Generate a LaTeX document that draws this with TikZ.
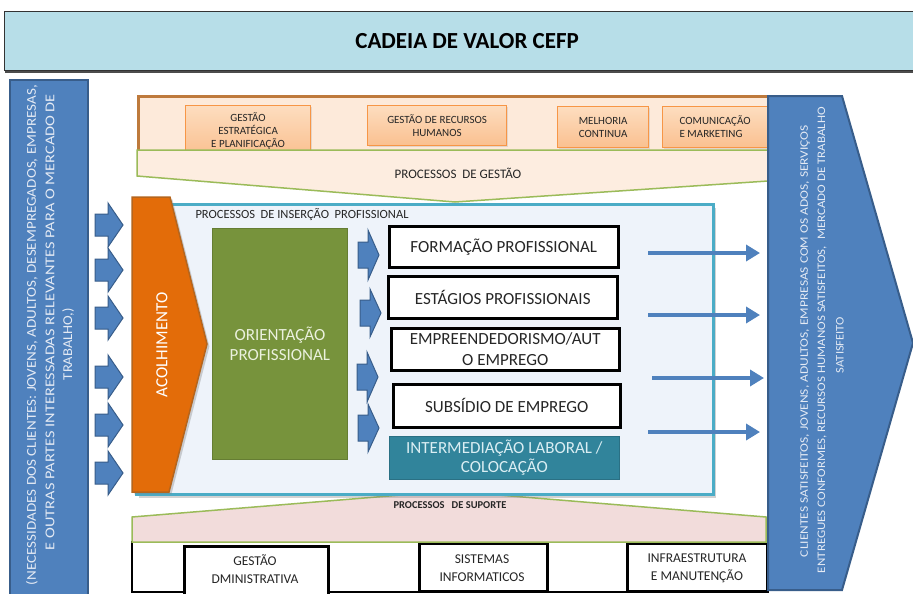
\documentclass[tikz,border=0pt]{standalone}
\usepackage{fontspec}
\setmainfont{Carlito}
\usepackage{graphicx}
\usetikzlibrary{shadows,arrows.meta}
\definecolor{titlebg}{HTML}{B7DEE8}
\definecolor{blu}{HTML}{4F81BD}
\definecolor{bluedge}{HTML}{385D8A}
\definecolor{mgmtedge}{HTML}{BE7A3C}
\definecolor{peach}{HTML}{FDEADA}
\definecolor{peachb}{HTML}{FDEDE0}
\definecolor{boxor}{HTML}{F79646}
\definecolor{mtop}{HTML}{FDDDBF}
\definecolor{mbot}{HTML}{FAC090}
\definecolor{grn}{HTML}{9BBB59}
\definecolor{innerb}{HTML}{4BACC6}
\definecolor{innerf}{HTML}{EEF3FA}
\definecolor{acol}{HTML}{E36C09}
\definecolor{acoledge}{HTML}{B5651D}
\definecolor{orientc}{HTML}{77933C}
\definecolor{orienttxt}{HTML}{EBF1DE}
\definecolor{tealc}{HTML}{31849B}
\definecolor{tealtxt}{HTML}{DAEEF3}
\definecolor{pinkf}{HTML}{F2DCDB}
\definecolor{txtdark}{HTML}{262626}
\definecolor{vtxt}{HTML}{E4EAF4}
\newcommand\blkarrow[6]{%
  \draw[blockarr] (#1,{#2-#5}) -- ({#1+#3},{#2-#5}) -- ({#1+#3},{#2-#6})
    -- ({#1+#3+#4},#2) -- ({#1+#3},{#2+#6}) -- ({#1+#3},{#2+#5})
    -- (#1,{#2+#5}) -- cycle;}
\begin{document}
\begin{tikzpicture}[x=1pt,y=-1pt,
  fs/.style 2 args={font=\fontsize{#1}{#2}\selectfont},
  blockarr/.style={fill=blu, draw=bluedge, line width=1pt, line join=miter},
  mbox/.style={draw=boxor, line width=1.2pt, top color=mtop, bottom color=mbot,
    anchor=north west, inner sep=0pt, align=center, text=txtdark,
    font=\fontsize{11}{13}\selectfont,
    drop shadow={opacity=0.2, shadow xshift=1pt, shadow yshift=-1.5pt}},
  wbox/.style={draw=black, line width=2.5pt, fill=white, anchor=north west,
    inner sep=0pt, align=center, font=\fontsize{17}{21}\selectfont, text=txtdark},
  sbox/.style={draw=black, line width=2.8pt, fill=white, anchor=north west,
    inner sep=0pt},
  stext/.style={align=center, font=\fontsize{13.5}{18}\selectfont, text=txtdark},
  outarr/.style={draw=blu, line width=4.5pt, -{Triangle[length=14pt,width=16pt]}},
  vtext/.style={rotate=90, inner sep=0pt, text=vtxt},
]
\clip (0,0) rectangle (913,594);
\fill[white] (0,0) rectangle (913,594);

% title bar
\node (title) [draw=black!80, line width=1.2pt, fill=titlebg, anchor=north west,
  minimum width=925pt, minimum height=59pt, inner sep=0pt,
  font=\fontsize{23}{27}\selectfont\bfseries, text=black,
  drop shadow={shadow xshift=0pt, shadow yshift=-2.5pt, opacity=0.7, fill=black}]
  at (4,11) {CADEIA DE VALOR CEFP};

% left input box
\node (needs) [draw=bluedge, line width=1.8pt, fill=blu, anchor=north west,
  minimum width=78pt, minimum height=540pt, inner sep=0pt] at (9,79) {};
\node (n1) [vtext, fs={13.5}{18}] at (32,335)
  {\resizebox{500pt}{\height}{(NECESSIDADES DOS CLIENTES: JOVENS, ADULTOS, DESEMPREGADOS, EMPRESAS,}};
\node (n2) [vtext, fs={13.5}{18}] at (50,322)
  {\resizebox{456pt}{\height}{E OUTRAS PARTES INTERESSADAS RELEVANTES PARA O MERCADO DE}};
\node (n3) [vtext, fs={13.5}{18}] at (68,344)
  {\resizebox{72pt}{\height}{TRABALHO,)}};

% input arrows
\foreach \yy in {225,270,318,377,425,473} {\blkarrow{95}{\yy}{13}{15}{11}{22}}

% management processes
\node (mgmt) [draw=mgmtedge, line width=2.5pt, fill=peach, anchor=north west,
  minimum width=641pt, minimum height=55pt, inner sep=0pt] at (137,95) {};
\node (m1) [mbox, minimum width=125pt, minimum height=50pt] at (185,105)
  {GESTÃO\\ESTRATÉGICA\\E PLANIFICAÇÃO};
\node (m2) [mbox, minimum width=139pt, minimum height=40pt] at (367,105)
  {GESTÃO DE RECURSOS\\HUMANOS};
\node (m3) [mbox, minimum width=91pt, minimum height=41pt] at (557,106)
  {MELHORIA\\CONTINUA};
\node (m4) [mbox, minimum width=105pt, minimum height=41pt, align=left] at (662,106)
  {COMUNICAÇÃO\\E MARKETING};
\draw[draw=grn, line width=1.5pt, fill=peachb]
  (137,150) -- (768,150) -- (768,181) -- (455,202) -- (137,176) -- cycle;
\node (pgest) [fs={13}{15}, text=txtdark] at (458,173) {PROCESSOS\ \ DE GESTÃO};

% support processes
\draw[black, line width=2pt, fill=white] (132,542) rectangle (766,592);
\node (s1) [sbox, minimum width=144pt, minimum height=52pt] at (183,545) {};
\node (s1t) [stext] at (255,569) {GESTÃO\\DMINISTRATIVA};
\node (s2) [sbox, minimum width=128pt, minimum height=48pt] at (418,542) {};
\node (s2t) [stext] at (482,568) {SISTEMAS\\INFORMATICOS};
\node (s3) [sbox, minimum width=140pt, minimum height=48pt] at (626,542) {};
\node (s3t) [stext] at (697,568) {INFRAESTRUTURA\\E MANUTENÇÃO};
\draw[draw=grn, line width=1.5pt, fill=pinkf]
  (132,517) -- (450,491) -- (766,517) -- (766,542) -- (132,542) -- cycle;

% insertion processes
\node (insp) [draw=innerb, line width=3pt, fill=innerf, anchor=north west,
  minimum width=577pt, minimum height=290pt, inner sep=0pt,
  drop shadow={opacity=0.35, shadow xshift=2pt, shadow yshift=-3pt}] at (135,203) {};
\node (insptxt) [anchor=west, fs={12.5}{15}, text=txtdark] at (192,215)
  {PROCESSOS\ \ DE INSERÇÃO\ \ PROFISSIONAL};
\node (psup) [font=\fontsize{10.5}{12}\selectfont\bfseries, text=txtdark] at (450,505)
  {PROCESSOS\ \ \ DE SUPORTE};

% acolhimento
\draw[fill=acol, draw=acoledge, line width=1.5pt, drop shadow={opacity=0.35}]
  (132,197) -- (170,197) -- (207,344) -- (169,492) -- (132,492) -- cycle;
\node (acolt) [rotate=90, text=white, fs={17}{20}] at (162,345) {ACOLHIMENTO};

% orientacao
\node (orient) [fill=orientc, draw=orientc!85!black, line width=.8pt, anchor=north west,
  minimum width=135pt, minimum height=231pt, inner sep=0pt, align=center,
  text=orienttxt, fs={17}{20}] at (212,228) {ORIENTAÇÃO\\PROFISSIONAL};

% small arrows
\blkarrow{358}{255}{10}{11}{13}{25}
\blkarrow{360}{313}{10}{11}{13}{24}
\blkarrow{357}{377}{10}{11}{13}{25}
\blkarrow{358}{428}{10}{11}{13}{24}

% services
\node (form) [wbox, minimum width=229pt, minimum height=41pt] at (388,225) {FORMAÇÃO PROFISSIONAL};
\node (estag) [wbox, minimum width=229pt, minimum height=42pt] at (387,275) {ESTÁGIOS PROFISSIONAIS};
\node (empre) [wbox, minimum width=228pt, minimum height=42pt] at (390,327) {EMPREENDEDORISMO/AUT\\O EMPREGO};
\node (subs) [wbox, minimum width=227pt, minimum height=43pt] at (392,383) {SUBSÍDIO DE EMPREGO};
\node (inter) [fill=tealc, draw=tealc!85!black, line width=.6pt, anchor=north west,
  minimum width=230pt, minimum height=43pt, inner sep=0pt, align=center,
  text=tealtxt, font=\fontsize{17}{19}\selectfont] at (389,436)
  {INTERMEDIAÇÃO LABORAL /\\COLOCAÇÃO};

% output arrows
\coordinate (o1s) at (648,253); \coordinate (o1e) at (760,253);
\coordinate (o2s) at (648,315); \coordinate (o2e) at (760,315);
\coordinate (o3s) at (652,378); \coordinate (o3e) at (764,378);
\coordinate (o4s) at (648,432); \coordinate (o4e) at (760,432);
\draw[outarr] (o1s) -- (o1e);
\draw[outarr] (o2s) -- (o2e);
\draw[outarr] (o3s) -- (o3e);
\draw[outarr] (o4s) -- (o4e);

% output big arrow
\draw[fill=blu, draw=bluedge, line width=2pt, line join=miter]
  (768,96) -- (842,96) -- (913,343) -- (842,590) -- (768,590) -- cycle;
\node (r1) [vtext, fs={11.5}{16}] at (805,341)
  {\resizebox{432pt}{\height}{CLIENTES SATISFEITOS, JOVENS, ADULTOS, EMPRESAS COM OS ADOS, SERVIÇOS}};
\node (r2) [vtext, fs={11.5}{16}] at (822,340)
  {\resizebox{466pt}{\height}{ENTREGUES CONFORMES, RECURSOS HUMANOS SATISFEITOS,\ \ MERCADO DE TRABALHO}};
\node (r3) [vtext, fs={11.5}{16}] at (840,345)
  {\resizebox{56pt}{\height}{SATISFEITO}};
\end{tikzpicture}
\end{document}
